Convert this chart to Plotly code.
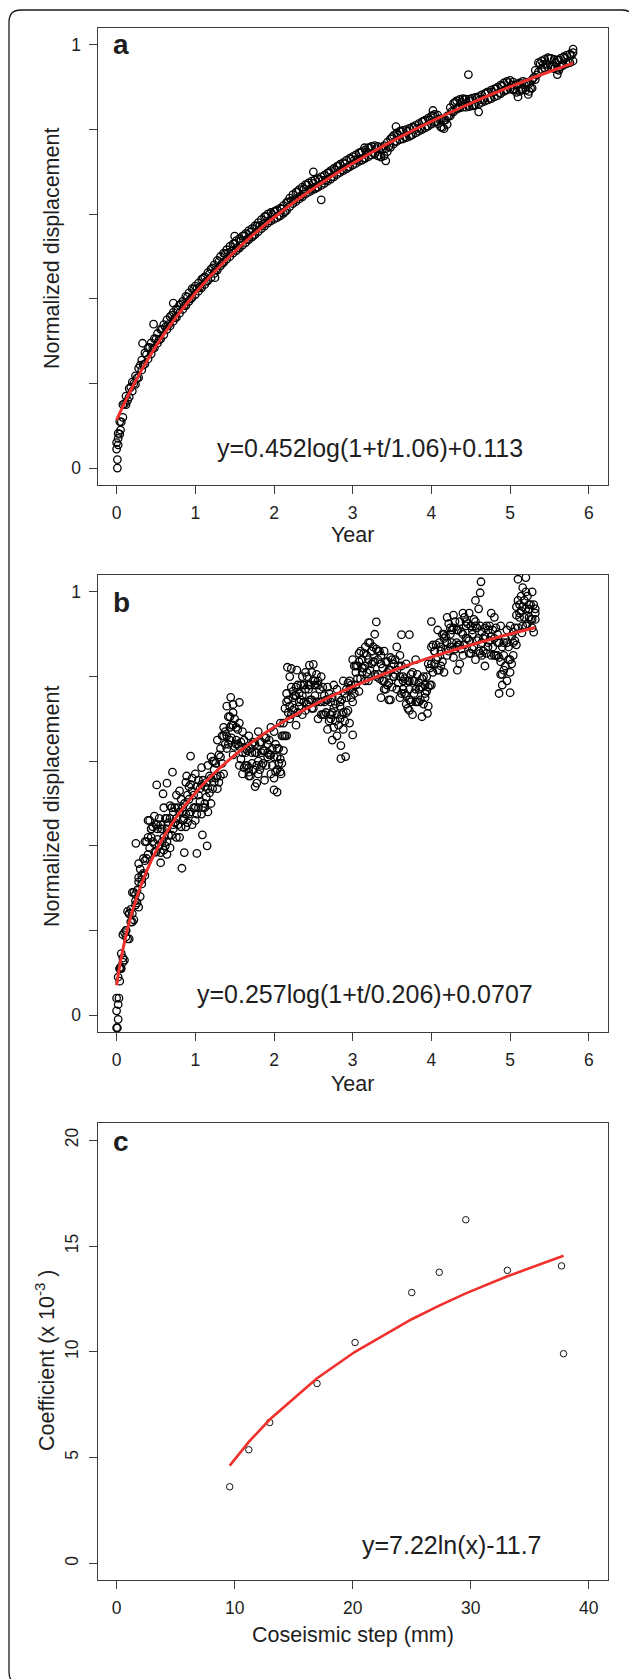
import plotly.graph_objects as go

# ---------------- data: panel a ----------------
years_a = [0.00,0.04,0.08,0.12,0.16,0.20,0.24,0.28,0.32,0.36,
           0.40,0.44,0.48,0.52,0.56,0.60,0.64,0.68,0.72,0.76,
           0.80,0.84,0.88,0.92,0.96,1.00,1.04,1.08,1.12,1.16,
           1.20,1.24,1.28,1.32,1.36,1.40,1.44,1.48,1.52,1.56,
           1.60,1.64,1.68,1.72,1.76,1.80,1.84,1.88,1.92,1.96,
           2.00,2.04,2.08,2.12,2.16,2.20,2.24,2.28,2.32,2.36,
           2.40,2.44,2.48,2.52,2.56,2.60,2.64,2.68,2.72,2.76,
           2.80,2.84,2.88,2.92,2.96,3.00,3.04,3.08,3.12,3.16,
           3.20,3.24,3.28,3.32,3.36,3.40,3.44,3.48,3.52,3.56,
           3.60,3.64,3.68,3.72,3.76,3.80,3.84,3.88,3.92,3.96,
           4.00,4.04,4.08,4.12,4.16,4.20,4.24,4.28,4.32,4.36,
           4.40,4.44,4.48,4.52,4.56,4.60,4.64,4.68,4.72,4.76,
           4.80,4.84,4.88,4.92,4.96,5.00,5.04,5.08,5.12,5.16,
           5.20,5.24,5.28,5.32,5.36,5.40,5.44,5.48,5.52,5.56,
           5.60,5.64,5.68,5.72,5.76,5.80]
disp_a_upper = [0.060,0.110,0.150,0.170,0.188,0.203,0.218,0.236,0.255,0.272,
                0.284,0.296,0.306,0.318,0.328,0.339,0.350,0.358,0.368,0.376,
                0.385,0.394,0.406,0.414,0.424,0.430,0.437,0.446,0.452,0.462,
                0.470,0.480,0.491,0.500,0.508,0.516,0.524,0.530,0.537,0.542,
                0.548,0.554,0.561,0.566,0.573,0.580,0.587,0.594,0.600,0.604,
                0.606,0.610,0.614,0.620,0.628,0.638,0.646,0.652,0.658,0.664,
                0.670,0.674,0.678,0.681,0.684,0.688,0.692,0.697,0.703,0.708,
                0.713,0.718,0.722,0.727,0.732,0.736,0.740,0.745,0.748,0.752,
                0.757,0.760,0.762,0.760,0.758,0.762,0.770,0.778,0.786,0.792,
                0.796,0.798,0.800,0.803,0.806,0.810,0.814,0.818,0.822,0.827,
                0.832,0.836,0.834,0.826,0.822,0.832,0.852,0.862,0.868,0.871,
                0.873,0.872,0.872,0.874,0.876,0.878,0.882,0.885,0.889,0.893,
                0.896,0.900,0.905,0.910,0.914,0.916,0.912,0.906,0.910,0.914,
                0.912,0.908,0.918,0.940,0.958,0.962,0.966,0.970,0.968,0.966,
                0.964,0.968,0.972,0.976,0.978,0.982]
disp_a_lower = [0.045,0.080,0.120,0.150,0.168,0.182,0.198,0.214,0.232,0.246,
                0.258,0.270,0.284,0.295,0.305,0.315,0.328,0.336,0.347,0.356,
                0.366,0.375,0.384,0.394,0.403,0.410,0.418,0.426,0.434,0.443,
                0.450,0.460,0.468,0.478,0.486,0.494,0.500,0.508,0.514,0.520,
                0.527,0.533,0.540,0.546,0.552,0.559,0.566,0.572,0.579,0.584,
                0.588,0.592,0.596,0.602,0.609,0.618,0.625,0.630,0.636,0.641,
                0.648,0.652,0.656,0.660,0.664,0.668,0.673,0.678,0.683,0.688,
                0.694,0.699,0.703,0.707,0.712,0.716,0.720,0.725,0.728,0.732,
                0.736,0.740,0.742,0.738,0.735,0.738,0.748,0.758,0.766,0.772,
                0.776,0.778,0.781,0.784,0.788,0.792,0.796,0.800,0.804,0.808,
                0.813,0.817,0.814,0.806,0.802,0.812,0.832,0.842,0.848,0.851,
                0.853,0.853,0.854,0.856,0.858,0.860,0.864,0.867,0.870,0.873,
                0.877,0.880,0.885,0.890,0.894,0.896,0.894,0.888,0.890,0.894,
                0.893,0.890,0.898,0.918,0.936,0.942,0.946,0.948,0.948,0.944,
                0.942,0.948,0.952,0.956,0.958,0.962]
years_a_half = [0.02,0.06,0.10,0.14,0.18,0.22,0.26,0.30,0.34,0.38,
                0.42,0.46,0.50,0.54,0.58,0.62,0.66,0.70,0.74,0.78,
                0.82,0.86,0.90,0.94,0.98,1.02,1.06,1.10,1.14,1.18,
                1.22,1.26,1.30,1.34,1.38,1.42,1.46,1.50,1.54,1.58,
                1.62,1.66,1.70,1.74,1.78,1.82,1.86,1.90,1.94,1.98,
                2.02,2.06,2.10,2.14,2.18,2.22,2.26,2.30,2.34,2.38,
                2.42,2.46,2.50,2.54,2.58,2.62,2.66,2.70,2.74,2.78,
                2.82,2.86,2.90,2.94,2.98,3.02,3.06,3.10,3.14,3.18,
                3.22,3.26,3.30,3.34,3.38,3.42,3.46,3.50,3.54,3.58,
                3.62,3.66,3.70,3.74,3.78,3.82,3.86,3.90,3.94,3.98,
                4.02,4.06,4.10,4.14,4.18,4.22,4.26,4.30,4.34,4.38,
                4.42,4.46,4.50,4.54,4.58,4.62,4.66,4.70,4.74,4.78,
                4.82,4.86,4.90,4.94,4.98,5.02,5.06,5.10,5.14,5.18,
                5.22,5.26,5.30,5.34,5.38,5.42,5.46,5.50,5.54,5.58,
                5.62,5.66,5.70,5.74,5.78]
disp_a_mid = [0.082,0.109,0.152,0.160,0.191,0.200,0.213,0.243,0.244,0.268,
              0.285,0.283,0.305,0.303,0.328,0.333,0.339,0.361,0.355,0.374,
              0.388,0.384,0.404,0.400,0.423,0.424,0.428,0.449,0.441,0.459,
              0.473,0.469,0.488,0.484,0.507,0.509,0.512,0.531,0.521,0.537,
              0.549,0.541,0.557,0.550,0.572,0.573,0.576,0.595,0.585,0.599,
              0.607,0.597,0.612,0.606,0.629,0.632,0.634,0.653,0.643,0.659,
              0.669,0.659,0.673,0.663,0.682,0.680,0.681,0.699,0.689,0.704,
              0.714,0.705,0.719,0.711,0.730,0.728,0.729,0.746,0.733,0.747,
              0.756,0.745,0.755,0.739,0.754,0.755,0.760,0.781,0.772,0.787,
              0.795,0.783,0.796,0.786,0.805,0.803,0.803,0.820,0.808,0.823,
              0.833,0.819,0.824,0.805,0.823,0.832,0.843,0.864,0.853,0.865,
              0.871,0.857,0.868,0.857,0.874,0.871,0.871,0.887,0.874,0.888,
              0.896,0.887,0.902,0.893,0.911,0.905,0.896,0.908,0.895,0.906,
              0.909,0.898,0.923,0.929,0.956,0.954,0.954,0.968,0.950,0.957,
              0.964,0.954,0.968,0.958,0.976]
years_a_extra = [0.01,0.01,0.02,0.02,0.05,0.33,0.47,0.72,1.25,1.50,2.50,2.60,
                 3.15,3.42,3.55,4.02,4.47,4.60,5.10,5.23,5.60,5.62,5.80]
disp_a_extra = [0.0,0.02,0.07,0.055,0.09,0.295,0.34,0.39,0.45,0.548,0.700,0.634,
                0.757,0.726,0.807,0.845,0.930,0.842,0.877,0.883,0.930,0.94,0.99]
fit_years_a = [0,0.02,0.05,0.1,0.2,0.3,0.4,0.5,0.6,0.8,1.0,1.2,1.4,1.6,1.8,2.0,
               2.4,2.8,3.2,3.6,4.0,4.4,4.8,5.2,5.6,5.8]
fit_disp_a = [0.113,0.1214,0.1338,0.1537,0.1911,0.2256,0.2577,0.2877,0.3158,0.3672,
              0.4133,0.4552,0.4935,0.5289,0.5617,0.5922,0.6477,0.6972,0.7417,0.7823,
              0.8195,0.8539,0.8859,0.9157,0.9437,0.9571]

# ---------------- data: panel b ----------------
years_b = [0.00,0.04,0.08,0.12,0.16,0.20,0.24,0.28,0.32,0.36,
           0.40,0.44,0.48,0.52,0.56,0.60,0.64,0.68,0.72,0.76,
           0.80,0.84,0.88,0.92,0.96,1.00,1.04,1.08,1.12,1.16,
           1.20,1.24,1.28,1.32,1.36,1.40,1.44,1.48,1.52,1.56,
           1.60,1.64,1.68,1.72,1.76,1.80,1.84,1.88,1.92,1.96,
           2.00,2.04,2.08,2.12,2.16,2.20,2.24,2.28,2.32,2.36,
           2.40,2.44,2.48,2.52,2.56,2.60,2.64,2.68,2.72,2.76,
           2.80,2.84,2.88,2.92,2.96,3.00,3.04,3.08,3.12,3.16,
           3.20,3.24,3.28,3.32,3.36,3.40,3.44,3.48,3.52,3.56,
           3.60,3.64,3.68,3.72,3.76,3.80,3.84,3.88,3.92,3.96,
           4.00,4.04,4.08,4.12,4.16,4.20,4.24,4.28,4.32,4.36,
           4.40,4.44,4.48,4.52,4.56,4.60,4.64,4.68,4.72,4.76,
           4.80,4.84,4.88,4.92,4.96,5.00,5.04,5.08,5.12,5.16,
           5.20,5.24,5.28,5.32]
disp_b_upper = [0.04,0.11,0.19,0.20,0.24,0.29,0.285,0.325,0.33,0.41,
                0.46,0.44,0.47,0.45,0.45,0.49,0.465,0.495,0.48,0.52,
                0.53,0.49,0.55,0.54,0.56,0.57,0.555,0.585,0.54,0.59,
                0.61,0.60,0.65,0.63,0.68,0.73,0.705,0.715,0.68,0.69,
                0.67,0.63,0.66,0.64,0.64,0.67,0.645,0.655,0.64,0.68,
                0.67,0.63,0.69,0.69,0.76,0.80,0.765,0.775,0.76,0.80,
                0.81,0.78,0.81,0.79,0.79,0.80,0.755,0.775,0.74,0.78,
                0.77,0.74,0.79,0.77,0.79,0.84,0.825,0.855,0.84,0.87,
                0.88,0.86,0.90,0.86,0.85,0.86,0.835,0.845,0.83,0.87,
                0.85,0.80,0.83,0.79,0.81,0.84,0.785,0.795,0.78,0.83,
                0.87,0.86,0.91,0.87,0.90,0.94,0.915,0.945,0.91,0.93,
                0.95,0.93,0.95,0.91,0.93,0.96,0.905,0.915,0.91,0.95,
                0.94,0.90,0.92,0.88,0.91,0.92,0.905,0.965,0.97,1.01,
                1.00,0.97,1.00,0.96]
disp_b_mid = [0.01,0.11,0.135,0.20,0.24,0.24,0.27,0.315,0.31,0.365,
              0.42,0.44,0.405,0.44,0.44,0.42,0.44,0.465,0.45,0.465,
              0.48,0.48,0.475,0.51,0.53,0.49,0.52,0.545,0.50,0.535,
              0.56,0.58,0.565,0.61,0.66,0.66,0.68,0.685,0.65,0.635,
              0.62,0.62,0.585,0.62,0.62,0.60,0.62,0.625,0.62,0.615,
              0.61,0.61,0.605,0.66,0.74,0.73,0.75,0.755,0.74,0.755,
              0.77,0.77,0.745,0.78,0.78,0.74,0.74,0.745,0.71,0.725,
              0.71,0.73,0.715,0.75,0.77,0.77,0.81,0.835,0.82,0.825,
              0.84,0.86,0.835,0.84,0.83,0.79,0.81,0.815,0.80,0.815,
              0.80,0.79,0.755,0.77,0.79,0.77,0.77,0.775,0.76,0.775,
              0.83,0.86,0.845,0.86,0.89,0.88,0.90,0.915,0.88,0.875,
              0.90,0.92,0.885,0.90,0.92,0.89,0.88,0.895,0.88,0.895,
              0.89,0.88,0.835,0.85,0.88,0.84,0.88,0.945,0.95,0.965,
              0.96,0.96,0.935,0.95]
disp_b_lower = [-0.03,0.08,0.125,0.185,0.18,0.22,0.26,0.255,0.32,0.33,
                0.38,0.42,0.385,0.415,0.36,0.39,0.41,0.395,0.44,0.42,
                0.42,0.46,0.445,0.475,0.45,0.46,0.49,0.475,0.49,0.48,
                0.50,0.55,0.535,0.565,0.57,0.63,0.65,0.615,0.64,0.59,
                0.57,0.59,0.565,0.595,0.54,0.57,0.59,0.555,0.61,0.57,
                0.56,0.58,0.575,0.625,0.66,0.70,0.72,0.685,0.73,0.71,
                0.72,0.74,0.725,0.755,0.70,0.71,0.71,0.675,0.70,0.68,
                0.66,0.70,0.675,0.715,0.69,0.74,0.78,0.765,0.81,0.79,
                0.79,0.83,0.805,0.805,0.75,0.77,0.78,0.745,0.80,0.77,
                0.75,0.77,0.735,0.745,0.71,0.74,0.74,0.705,0.75,0.73,
                0.78,0.83,0.815,0.825,0.81,0.85,0.87,0.845,0.87,0.83,
                0.85,0.89,0.855,0.865,0.84,0.86,0.85,0.825,0.87,0.85,
                0.85,0.85,0.805,0.815,0.79,0.81,0.85,0.875,0.94,0.92,
                0.92,0.94,0.915,0.935]
years_b_half = [0.02,0.06,0.10,0.14,0.18,0.22,0.26,0.30,0.34,0.38,
                0.42,0.46,0.50,0.54,0.58,0.62,0.66,0.70,0.74,0.78,
                0.82,0.86,0.90,0.94,0.98,1.02,1.06,1.10,1.14,1.18,
                1.22,1.26,1.30,1.34,1.38,1.42,1.46,1.50,1.54,1.58,
                1.62,1.66,1.70,1.74,1.78,1.82,1.86,1.90,1.94,1.98,
                2.02,2.06,2.10,2.14,2.18,2.22,2.26,2.30,2.34,2.38,
                2.42,2.46,2.50,2.54,2.58,2.62,2.66,2.70,2.74,2.78,
                2.82,2.86,2.90,2.94,2.98,3.02,3.06,3.10,3.14,3.18,
                3.22,3.26,3.30,3.34,3.38,3.42,3.46,3.50,3.54,3.58,
                3.62,3.66,3.70,3.74,3.78,3.82,3.86,3.90,3.94,3.98,
                4.02,4.06,4.10,4.14,4.18,4.22,4.26,4.30,4.34,4.38,
                4.42,4.46,4.50,4.54,4.58,4.62,4.66,4.70,4.74,4.78,
                4.82,4.86,4.90,4.94,4.98,5.02,5.06,5.10,5.14,5.18,
                5.22,5.26,5.30]
disp_b_q1 = [0.09,0.145,0.195,0.245,0.25,0.29,0.295,0.345,0.37,0.41,
             0.46,0.445,0.45,0.465,0.44,0.465,0.455,0.49,0.49,0.49,
             0.51,0.50,0.52,0.545,0.52,0.54,0.535,0.555,0.55,0.565,
             0.60,0.595,0.615,0.66,0.67,0.705,0.685,0.70,0.675,0.645,
             0.65,0.625,0.63,0.645,0.62,0.645,0.625,0.655,0.65,0.63,
             0.64,0.63,0.66,0.725,0.745,0.775,0.755,0.78,0.78,0.78,
             0.80,0.78,0.79,0.805,0.77,0.775,0.745,0.76,0.75,0.735,
             0.75,0.745,0.76,0.785,0.78,0.825,0.825,0.86,0.855,0.85,
             0.88,0.87,0.865,0.86,0.82,0.835,0.815,0.84,0.84,0.825,
             0.825,0.795,0.79,0.805,0.79,0.805,0.775,0.80,0.80,0.82,
             0.875,0.875,0.88,0.90,0.895,0.925,0.91,0.93,0.91,0.905,
             0.94,0.925,0.92,0.935,0.915,0.92,0.89,0.92,0.92,0.91,
             0.915,0.88,0.87,0.89,0.87,0.895,0.915,0.98,0.99,0.98,
             0.99,0.97,0.97]
disp_b_q3 = [0.025,0.11,0.13,0.18,0.22,0.225,0.265,0.28,0.335,0.37,
             0.395,0.41,0.385,0.40,0.41,0.40,0.425,0.425,0.455,0.45,
             0.445,0.465,0.455,0.48,0.49,0.475,0.505,0.49,0.515,0.525,
             0.535,0.56,0.55,0.595,0.64,0.64,0.655,0.635,0.64,0.605,
             0.585,0.59,0.565,0.58,0.59,0.58,0.595,0.59,0.615,0.59,
             0.575,0.595,0.595,0.66,0.715,0.71,0.725,0.715,0.745,0.74,
             0.735,0.745,0.725,0.74,0.74,0.71,0.715,0.695,0.715,0.695,
             0.685,0.71,0.695,0.72,0.75,0.76,0.795,0.795,0.82,0.81,
             0.815,0.835,0.80,0.795,0.79,0.77,0.785,0.775,0.805,0.785,
             0.76,0.76,0.725,0.74,0.76,0.74,0.745,0.735,0.765,0.78,
             0.81,0.84,0.815,0.835,0.865,0.86,0.88,0.865,0.875,0.865,
             0.875,0.89,0.855,0.87,0.885,0.855,0.86,0.855,0.885,0.87,
             0.85,0.845,0.805,0.825,0.84,0.83,0.885,0.915,0.955,0.94,
             0.925,0.935,0.905]
years_b_extra = [0.01,0.02,0.03,0.05,0.245,0.28,0.51,0.59,0.64,0.71,0.56,0.64,
                 0.83,0.86,0.94,0.89,1.02,1.15,1.09,1.45,1.48,1.56,1.78,1.68,
                 2.00,2.04,2.09,2.17,2.22,2.29,2.45,2.50,2.85,2.91,2.74,2.85,
                 3.00,3.30,3.46,3.62,3.72,3.95,3.72,4.00,4.33,4.63,4.62,4.56,
                 4.86,5.00,4.90,5.10,5.20,5.15]
disp_b_extra = [-0.03,-0.01,0.04,0.113,0.406,0.358,0.544,0.523,0.548,0.574,0.384,0.38,
                0.347,0.384,0.612,0.565,0.382,0.40,0.426,0.751,0.734,0.739,0.548,0.574,
                0.532,0.527,0.57,0.822,0.819,0.815,0.827,0.829,0.606,0.611,0.65,0.637,
                0.662,0.929,0.745,0.899,0.72,0.713,0.899,0.93,0.815,1.024,0.998,0.98,
                0.76,0.762,0.78,1.03,1.034,0.903]
fit_years_b = [0,0.02,0.05,0.1,0.15,0.2,0.3,0.4,0.5,0.6,0.8,1.0,1.2,1.4,1.6,1.8,
               2.0,2.4,2.8,3.2,3.6,4.0,4.4,4.8,5.0,5.32]
fit_disp_b = [0.0707,0.0945,0.1265,0.1724,0.2113,0.2451,0.3017,0.3480,0.3873,0.4213,
              0.4783,0.5249,0.5643,0.5985,0.6287,0.6556,0.6801,0.7229,0.7596,0.7917,
              0.8202,0.8459,0.8693,0.8907,0.9007,0.9160]

# ---------------- data: panel c ----------------
step_mm = [9.58,11.2,12.97,16.98,20.2,25.0,27.33,29.58,33.1,37.69,37.86]
coef = [3.62,5.37,6.66,8.50,10.44,12.80,13.76,16.24,13.85,14.06,9.91]
fit_coef = [4.62,5.74,6.80,8.75,10.00,11.54,12.18,12.76,13.57,14.50,14.54]

# ---------------- ticks ----------------
disp_tickvals = [0, 1]
disp_ticktext = ["0", "1"]
disp_minor_tickvals = [0.2, 0.4, 0.6, 0.8]
year_tickvals = [0, 1, 2, 3, 4, 5, 6]
step_tickvals = [0, 10, 20, 30, 40]
coef_tickvals = [0, 5, 10, 15, 20]

# ---------------- styling ----------------
W, H = 629, 1679
FONT = "Liberation Sans, Arial, Helvetica, sans-serif"
INK = "#1e1e1e"
AXC = "#3c3c3c"
RED = "#f0302c"

def px(x):
    return x / W

def py(y):
    return 1 - y / H

box_left, box_right = 97.7, 607.7
panels = {"a": (28.0, 485.0), "b": (575.0, 1032.0), "c": (1123.3, 1580.3)}

fig = go.Figure()
marker = dict(symbol="circle-open", size=7.5, color="#000000", line=dict(width=1.3))

fig.add_trace(go.Scatter(x=years_a + years_a + years_a_half + years_a_extra,
                         y=disp_a_upper + disp_a_lower + disp_a_mid + disp_a_extra,
                         mode="markers", marker=marker, xaxis="x", yaxis="y",
                         showlegend=False, hoverinfo="skip"))
fig.add_trace(go.Scatter(x=fit_years_a, y=fit_disp_a, mode="lines",
                         line=dict(color=RED, width=3.0, shape="spline"),
                         xaxis="x", yaxis="y", showlegend=False, hoverinfo="skip"))
fig.add_trace(go.Scatter(x=years_b + years_b + years_b + years_b_half + years_b_half + years_b_extra,
                         y=disp_b_upper + disp_b_mid + disp_b_lower + disp_b_q1 + disp_b_q3 + disp_b_extra,
                         mode="markers", marker=marker, xaxis="x2", yaxis="y2",
                         showlegend=False, hoverinfo="skip"))
fig.add_trace(go.Scatter(x=fit_years_b, y=fit_disp_b, mode="lines",
                         line=dict(color=RED, width=3.0, shape="spline"),
                         xaxis="x2", yaxis="y2", showlegend=False, hoverinfo="skip"))
fig.add_trace(go.Scatter(x=step_mm, y=coef, mode="markers",
                         marker=dict(symbol="circle-open", size=6.5, color="#111111", line=dict(width=1)),
                         xaxis="x3", yaxis="y3", showlegend=False, hoverinfo="skip"))
fig.add_trace(go.Scatter(x=step_mm, y=fit_coef, mode="lines",
                         line=dict(color=RED, width=2.6),
                         xaxis="x3", yaxis="y3", showlegend=False, hoverinfo="skip"))

common = dict(showline=True, mirror=True, linecolor=AXC, linewidth=1.2,
              ticks="outside", ticklen=8, tickwidth=1.2, tickcolor=AXC,
              showgrid=False, zeroline=False, fixedrange=True,
              tickfont=dict(family=FONT, size=17.5, color=INK))
minor_disp = dict(tickvals=disp_minor_tickvals, ticks="outside", ticklen=8,
                  tickwidth=1.2, tickcolor=AXC, showgrid=False)
xdom = [px(box_left), px(box_right)]

def ydom(key):
    top, bot = panels[key]
    return [py(bot), py(top)]

fig.update_layout(
    width=W, height=H, autosize=False,
    margin=dict(l=0, r=0, t=0, b=0, pad=0),
    paper_bgcolor="white", plot_bgcolor="white",
    xaxis=dict(common, domain=xdom, anchor="y", range=[-0.24, 6.24],
               tickvals=year_tickvals, ticklabelstandoff=4),
    yaxis=dict(common, domain=ydom("a"), anchor="x", range=[-0.04, 1.04],
               tickvals=disp_tickvals, ticktext=disp_ticktext, minor=minor_disp,
               ticklabelstandoff=4),
    xaxis2=dict(common, domain=xdom, anchor="y2", range=[-0.24, 6.24],
                tickvals=year_tickvals, ticklabelstandoff=4),
    yaxis2=dict(common, domain=ydom("b"), anchor="x2", range=[-0.04, 1.04],
                tickvals=disp_tickvals, ticktext=disp_ticktext, minor=minor_disp,
                ticklabelstandoff=4),
    xaxis3=dict(common, domain=xdom, anchor="y3", range=[-1.6, 41.6],
                tickvals=step_tickvals, ticklabelstandoff=4),
    yaxis3=dict(common, domain=ydom("c"), anchor="x3", range=[-0.8, 20.8],
                tickvals=coef_tickvals, tickangle=-90, ticklabelstandoff=4),
)

ann = []
def add_text(text, x, y, size, bold=False, angle=0, xanchor="center"):
    ann.append(dict(text=("<b>%s</b>" % text) if bold else text,
                    x=px(x), y=py(y), xref="paper", yref="paper",
                    xanchor=xanchor, yanchor="middle", showarrow=False,
                    textangle=angle,
                    font=dict(family=FONT, size=size, color=INK)))

# panel letters
add_text("a", 110.5, 45.0, 28, bold=True, xanchor="left")
add_text("b", 110.5, 602.3, 28, bold=True, xanchor="left")
add_text("c", 110.5, 1141.7, 28, bold=True, xanchor="left")
# equations
add_text("y=0.452log(1+t/1.06)+0.113", 369.8, 447.6, 25)
add_text("y=0.257log(1+t/0.206)+0.0707", 365.0, 994.1, 25)
add_text("y=7.22ln(x)-11.7", 452.3, 1544.5, 25)
# axis titles
xc = (box_left + box_right) / 2
add_text("Year", xc, 534.5, 21.5)
add_text("Year", xc, 1084.0, 21.5)
add_text("Coseismic step (mm)", xc, 1635.0, 21.5)
add_text("Normalized displacement", 52.0, 249.0, 21.5, angle=-90)
add_text("Normalized displacement", 52.0, 807.0, 21.5, angle=-90)
add_text("Coefficient (x 10<sup>-3</sup> )", 45.0, 1360.0, 21.5, angle=-90)
fig.update_layout(annotations=ann)

# outer rounded frame
x0, x1, y0, y1, r = 9.0, 634.0, 10.0, 1684.0, 12.0
def P(x, y):
    return "%.5f,%.5f" % (px(x), py(y))
path = ("M " + P(x0 + r, y0) + " L " + P(x1 - r, y0) + " Q " + P(x1, y0) + " " + P(x1, y0 + r) +
        " L " + P(x1, y1 - r) + " Q " + P(x1, y1) + " " + P(x1 - r, y1) +
        " L " + P(x0 + r, y1) + " Q " + P(x0, y1) + " " + P(x0, y1 - r) +
        " L " + P(x0, y0 + r) + " Q " + P(x0, y0) + " " + P(x0 + r, y0) + " Z")
fig.add_shape(type="path", path=path, xref="paper", yref="paper",
              line=dict(color="#1a1a1a", width=1.3), layer="above")

fig.write_html("out.html", config={"displayModeBar": False},
               post_script="document.body.style.margin='0';document.body.style.padding='0';document.body.style.overflow='hidden';")
